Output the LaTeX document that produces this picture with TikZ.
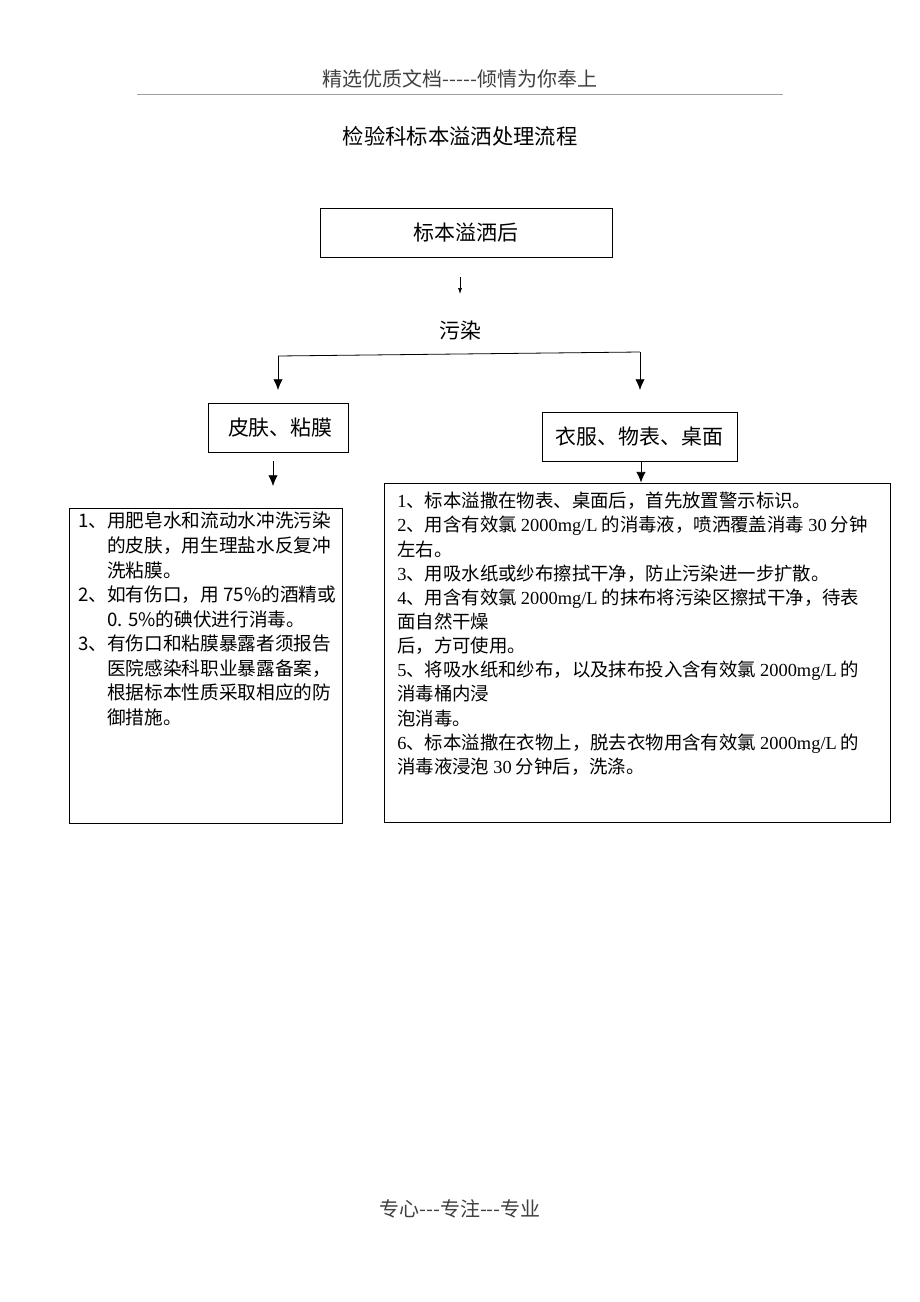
\documentclass[tikz,border=0pt]{standalone}
\usepackage{fontspec}
\setmainfont{Noto Sans CJK SC}
\newfontfamily\tnr{Liberation Serif}
\usetikzlibrary{arrows.meta}
\definecolor{headgray}{HTML}{404040}
\definecolor{rulegray}{HTML}{A0A0A0}
\newcommand{\lat}[1]{{\tnr #1}}
\newcommand{\hy}{-\kern0pt}

\begin{document}
\begin{tikzpicture}[
  x=0.75pt, y=-0.75pt,
  box/.style={draw=black, line width=0.6pt, minimum height=36.75pt, inner sep=0pt, font=\fontsize{15.7}{18}\selectfont},
  body/.style={anchor=north west, align=left, inner sep=0pt},
  arr/.style={-{Latex[length=8pt,width=7pt]}, line width=0.6pt},
  tiny/.style={-{Latex[length=4.5pt,width=3pt]}, line width=0.5pt}
]
\useasboundingbox (0,0) rectangle (920,1302);

% page header and footer
\node[text=headgray, font=\fontsize{15}{18}\selectfont] (head) at (460,79) {精选优质文档\hy\hy\hy\hy\hy 倾情为你奉上};
\draw[rulegray, line width=0.6pt] (137,94) -- (783,94);
\node[font=\fontsize{16}{18}\selectfont] (title) at (460,136) {检验科标本溢洒处理流程};
\node[text=headgray, font=\fontsize{15}{18}\selectfont] (foot) at (460,1209) {专心\hy\hy\hy 专注\hy\hy\hy 专业};

% boxes
\node[box, minimum width=219pt] (spill) at (466,232.5) {标本溢洒后};
\node[font=\fontsize{15.7}{18}\selectfont] (dirty) at (460,331) {污染};
\node[box, minimum width=105pt] (skin) at (278,427.5) {\ 皮肤、粘膜};
\node[box, minimum width=146.25pt] (cloth) at (639.5,436.5) {衣服、物表、桌面};
\node[draw, line width=0.6pt, minimum width=204.75pt, minimum height=236.25pt] (skinsteps) at (205.5,665.5) {};
\node[draw, line width=0.6pt, minimum width=379.5pt, minimum height=254.25pt] (clothsteps) at (637,652.5) {};

% texts inside the big boxes
\node[body, font=\fontsize{14}{18.4}\selectfont] (skintext) at (78,512) {%
1、用肥皂水和流动水冲洗污染\\
\phantom{1、}的皮肤，用生理盐水反复冲\\
\phantom{1、}洗粘膜。\\
2、如有伤口，用 75\%的酒精或\\
\phantom{1、}0. 5\%的碘伏进行消毒。\\
3、有伤口和粘膜暴露者须报告\\
\phantom{1、}医院感染科职业暴露备案，\\
\phantom{1、}根据标本性质采取相应的防\\
\phantom{1、}御措施。};
\node[body, font=\fontsize{13.8}{18.1}\selectfont] (clothtext) at (397,492) {%
\lat{1}、标本溢撒在物表、桌面后，首先放置警示标识。\\
\lat{2}、用含有效氯 \lat{2000mg/L} 的消毒液，喷洒覆盖消毒 \lat{30} 分钟\\
左右。\\
\lat{3}、用吸水纸或纱布擦拭干净，防止污染进一步扩散。\\
\lat{4}、用含有效氯 \lat{2000mg/L} 的抹布将污染区擦拭干净，待表\\
面自然干燥\\
后，方可使用。\\
\lat{5}、将吸水纸和纱布，以及抹布投入含有效氯 \lat{2000mg/L} 的\\
消毒桶内浸\\
泡消毒。\\
\lat{6}、标本溢撒在衣物上，脱去衣物用含有效氯 \lat{2000mg/L} 的\\
消毒液浸泡 \lat{30} 分钟后，洗涤。};

% connectors
\coordinate (a1) at (460,277);
\coordinate (a2) at (460,294);
\coordinate (sl) at (278,356);
\coordinate (sr) at (640,352);
\coordinate (bl) at (278,390);
\coordinate (br) at (640,390);
\coordinate (c1) at (273,461);
\coordinate (c2) at (273,486);

\draw[tiny] (a1) -- (a2);
\draw[line width=0.6pt] (sl) -- (sr);
\draw[arr] (sl) -- (bl);
\draw[arr] (sr) -- (br);
\draw[arr] (c1) -- (c2);
\draw[arr] (cloth.south -| 641,0) -- (641,0 |- clothsteps.north);
\end{tikzpicture}
\end{document}
